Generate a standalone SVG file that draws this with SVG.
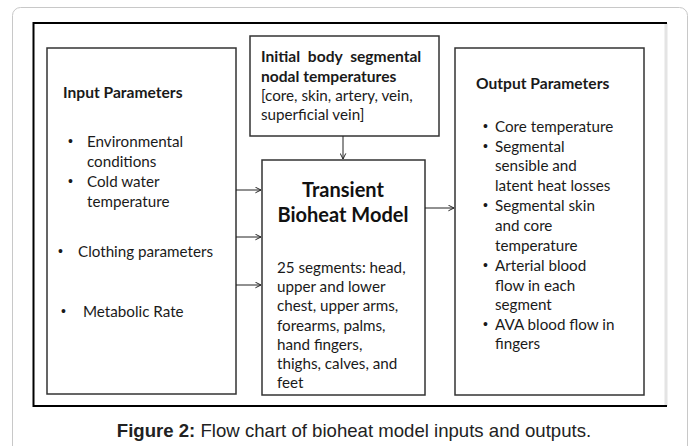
<svg xmlns="http://www.w3.org/2000/svg" width="693" height="446" viewBox="0 0 693 446">
<style>
.box{fill:#fff;stroke:#333;stroke-width:1.5}
.t{font-family:Lato,"Open Sans",sans-serif;font-size:15.2px;fill:#1a1a1a}
.b{font-weight:bold;font-size:15.6px}
.u{font-family:"Liberation Sans",Arial,sans-serif;font-size:14px;fill:#1a1a1a}
.big{font-family:Lato,"Open Sans",sans-serif;font-size:20px;font-weight:bold;fill:#111}
.cap{font-family:"Liberation Sans",Arial,sans-serif;font-size:18.6px;fill:#222}
.con{stroke:#222;stroke-width:1;fill:none}
</style>
<defs>
<marker id="ah" viewBox="0 0 10 10" refX="9" refY="5" markerWidth="7" markerHeight="7" orient="auto" markerUnits="userSpaceOnUse">
<path d="M1,1 L9,5 L1,9" fill="none" stroke="#222" stroke-width="1.4"/>
</marker>
</defs>
<rect x="0" y="0" width="693" height="446" fill="#fff"/>
<rect x="12.5" y="7.5" width="675" height="460" rx="8" fill="#fff" stroke="#c8c8c8" stroke-width="1"/>
<g id="frame">
<line x1="666" y1="23" x2="666" y2="406" stroke="#e4e4e4" stroke-width="3"/>
<path d="M667,23 L33.5,23 L33.5,406 L667,406" fill="none" stroke="#000" stroke-width="2"/>
</g>
<g id="input">
<rect class="box" x="47" y="48" width="189" height="346"/>
<text class="t b" x="63" y="98">Input Parameters</text>
<text class="u" x="68" y="146">•</text>
<text class="t" x="87" y="147">Environmental</text>
<text class="t" x="87" y="167">conditions</text>
<text class="u" x="68" y="186">•</text>
<text class="t" x="87" y="187">Cold water</text>
<text class="t" x="87" y="207">temperature</text>
<text class="u" x="58" y="256">•</text>
<text class="t" x="78" y="257">Clothing parameters</text>
<text class="u" x="61" y="316">•</text>
<text class="t" x="83" y="317">Metabolic Rate</text>
</g>
<g id="initial">
<rect class="box" x="250" y="36" width="189" height="100"/>
<text class="t b" x="261" y="62" word-spacing="4">Initial body segmental</text>
<text class="t b" x="261" y="82">nodal temperatures</text>
<text class="t" x="261" y="101">[core, skin, artery, vein,</text>
<text class="t" x="261" y="120">superficial vein]</text>
</g>
<g id="model">
<rect class="box" x="262" y="160" width="163" height="235"/>
<text class="big" x="343" y="197" text-anchor="middle">Transient</text>
<text class="big" x="343" y="222" text-anchor="middle">Bioheat Model</text>
<text class="t" x="277" y="273">25 segments: head,</text>
<text class="t" x="277" y="292">upper and lower</text>
<text class="t" x="277" y="311">chest, upper arms,</text>
<text class="t" x="277" y="331">forearms, palms,</text>
<text class="t" x="277" y="350">hand fingers,</text>
<text class="t" x="277" y="369">thighs, calves, and</text>
<text class="t" x="277" y="388">feet</text>
</g>
<g id="output">
<rect class="box" x="455" y="48" width="189" height="347"/>
<text class="t b" x="476" y="89">Output Parameters</text>
<text class="u" x="483" y="131">•</text>
<text class="t" x="495" y="132">Core temperature</text>
<text class="u" x="483" y="151">•</text>
<text class="t" x="495" y="152">Segmental</text>
<text class="t" x="495" y="171">sensible and</text>
<text class="t" x="495" y="191">latent heat losses</text>
<text class="u" x="483" y="210">•</text>
<text class="t" x="495" y="211">Segmental skin</text>
<text class="t" x="495" y="231">and core</text>
<text class="t" x="495" y="251">temperature</text>
<text class="u" x="483" y="270">•</text>
<text class="t" x="495" y="271">Arterial blood</text>
<text class="t" x="495" y="291">flow in each</text>
<text class="t" x="495" y="310">segment</text>
<text class="u" x="483" y="329">•</text>
<text class="t" x="495" y="330">AVA blood flow in</text>
<text class="t" x="495" y="349">fingers</text>
</g>
<g id="connectors">
<line class="con" x1="236" y1="190" x2="261" y2="190" marker-end="url(#ah)"/>
<line class="con" x1="236" y1="237" x2="261" y2="237" marker-end="url(#ah)"/>
<line class="con" x1="236" y1="285" x2="261" y2="285" marker-end="url(#ah)"/>
<line class="con" x1="343" y1="136" x2="343" y2="159" marker-end="url(#ah)"/>
<line class="con" x1="425" y1="208" x2="454" y2="208" marker-end="url(#ah)"/>
</g>
<text class="cap" x="354" y="437" text-anchor="middle"><tspan font-weight="bold">Figure 2:</tspan> Flow chart of bioheat model inputs and outputs.</text>
</svg>
